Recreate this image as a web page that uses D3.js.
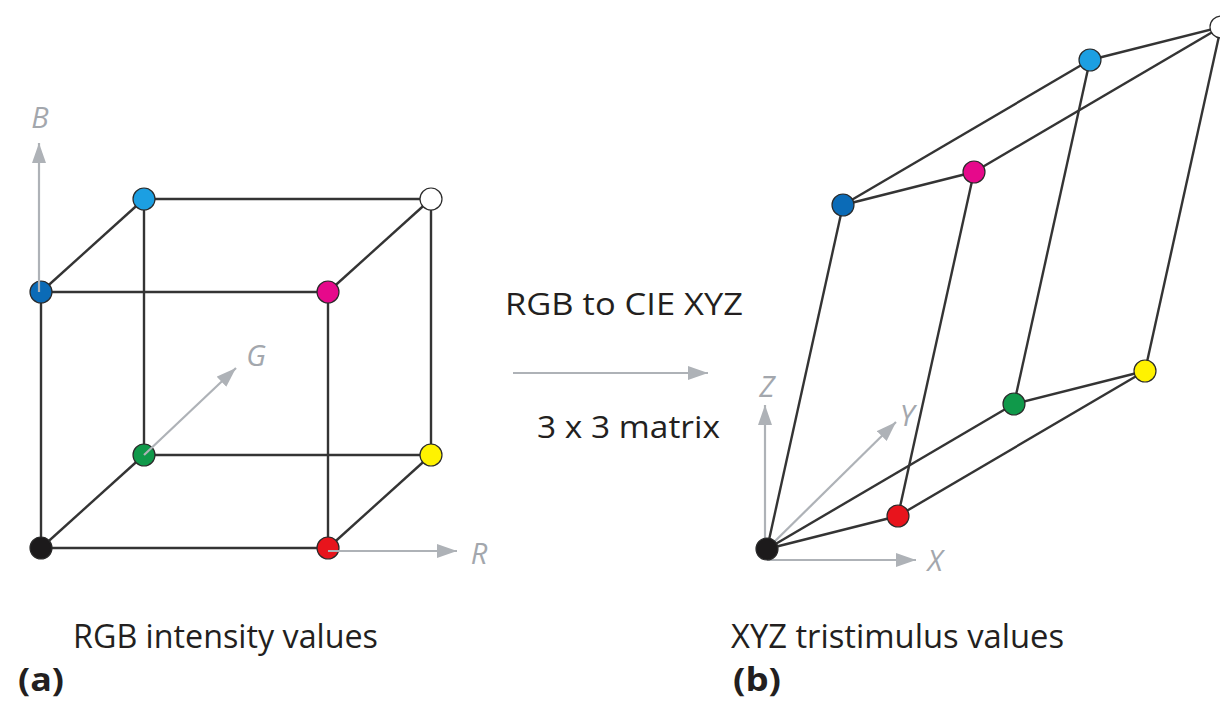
<!DOCTYPE html>
<html>
<head>
<meta charset="utf-8">
<script src="https://cdn.jsdelivr.net/npm/d3@7"></script>
<style>
  html, body { margin: 0; padding: 0; background: #fff; }
  svg { display: block; }
</style>
</head>
<body>
<svg></svg>
<script>
// clear the svg
d3.selectAll("svg > *").remove();

const SVG_WIDTH = 1220;
const SVG_HEIGHT = 706;

/*
 * Data: the eight corners of the RGB cube, the colour of each corner,
 * and the twelve cube edges (pairs of corner names).
 */
const CORNER_NAMES = ["black", "red", "green", "blue", "yellow", "magenta", "cyan", "white"];
const CORNER_RGB = [
  [0, 0, 0], [1, 0, 0], [0, 1, 0], [0, 0, 1],
  [1, 1, 0], [1, 0, 1], [0, 1, 1], [1, 1, 1]
];
const CORNER_FILLS = ["#1c1a1b", "#e8141c", "#10994a", "#0b6bb7", "#fff200", "#e6098b", "#1c9fe2", "#ffffff"];
const EDGES = [
  ["black", "red"], ["black", "green"], ["black", "blue"],
  ["red", "yellow"], ["red", "magenta"], ["green", "yellow"],
  ["green", "cyan"], ["blue", "magenta"], ["blue", "cyan"],
  ["yellow", "white"], ["magenta", "white"], ["cyan", "white"]
];
const LEFT_AXIS_LABELS = ["R", "G", "B"];
const RIGHT_AXIS_LABELS = ["X", "Y", "Z"];

/*
 * Screen projection of each panel: origin plus the screen vector of one unit along each axis.
 */
const LEFT_PROJ = { origin: [41, 548], r: [287, 0], g: [103, -93], b: [0, -256] };
const RIGHT_PROJ = { origin: [767, 549], r: [131, -33], g: [247, -145], b: [76, -344] };

const EDGE_COLOR = "#343434";
const AXIS_COLOR = "#aeb2b7";
const DOT_R = 11;

const svg = d3.select("svg")
  .attr("width", SVG_WIDTH)
  .attr("height", SVG_HEIGHT);

svg.append("rect")
  .attr("width", SVG_WIDTH)
  .attr("height", SVG_HEIGHT)
  .attr("fill", "#fff");

// arrowhead marker for the gray axes
svg.append("defs")
  .append("marker")
  .attr("id", "arrow")
  .attr("viewBox", "0 0 20 14")
  .attr("refX", 20)
  .attr("refY", 7)
  .attr("markerWidth", 20)
  .attr("markerHeight", 14)
  .attr("markerUnits", "userSpaceOnUse")
  .attr("orient", "auto")
  .append("path")
  .attr("d", "M0,0 L20,7 L0,14 Z")
  .attr("fill", AXIS_COLOR);

function project(proj, rgb) {
  const [ox, oy] = proj.origin;
  return [
    ox + rgb[0] * proj.r[0] + rgb[1] * proj.g[0] + rgb[2] * proj.b[0],
    oy + rgb[0] * proj.r[1] + rgb[1] * proj.g[1] + rgb[2] * proj.b[1]
  ];
}

function corners(proj) {
  return CORNER_NAMES.map((name, i) => {
    const [x, y] = project(proj, CORNER_RGB[i]);
    return { name, x, y, fill: CORNER_FILLS[i] };
  });
}

function drawEdges(g, pts) {
  const byName = {};
  pts.forEach(p => { byName[p.name] = p; });
  g.selectAll("line.edge")
    .data(EDGES)
    .join("line")
    .attr("class", "edge")
    .attr("x1", d => byName[d[0]].x)
    .attr("y1", d => byName[d[0]].y)
    .attr("x2", d => byName[d[1]].x)
    .attr("y2", d => byName[d[1]].y)
    .attr("stroke", EDGE_COLOR)
    .attr("stroke-width", 2.4);
}

function drawDots(g, pts) {
  g.selectAll("circle.dot")
    .data(pts)
    .join("circle")
    .attr("class", "dot")
    .attr("cx", d => d.x)
    .attr("cy", d => d.y)
    .attr("r", DOT_R)
    .attr("fill", d => d.fill)
    .attr("stroke", "#2a2a2a")
    .attr("stroke-width", 1.2);
}

function axis(g, x1, y1, x2, y2) {
  g.append("line")
    .attr("x1", x1).attr("y1", y1)
    .attr("x2", x2).attr("y2", y2)
    .attr("stroke", AXIS_COLOR)
    .attr("stroke-width", 2.2)
    .attr("marker-end", "url(#arrow)");
}

function axisLabel(g, x, y, txt) {
  g.append("text")
    .attr("x", x)
    .attr("y", y)
    .attr("text-anchor", "middle")
    .attr("font-family", "'Open Sans', sans-serif")
    .attr("font-style", "italic")
    .attr("font-size", 29)
    .attr("fill", "#a3a7ad")
    .text(txt);
}

/*
 * Panel (a): RGB cube
 */
const left = svg.append("g");
const lp = corners(LEFT_PROJ);
drawEdges(left, lp);
drawDots(left, lp);
const lBlue = lp[3], lGreen = lp[2], lRed = lp[1];
axis(left, lBlue.x - 2, lBlue.y, lBlue.x - 2, 143);
axis(left, lGreen.x, lGreen.y, 236, 368);
axis(left, lRed.x, lRed.y + 3, 457, lRed.y + 3);
axisLabel(left, 40, 128, LEFT_AXIS_LABELS[2]);
axisLabel(left, 256, 366, LEFT_AXIS_LABELS[1]);
axisLabel(left, 479, 564, LEFT_AXIS_LABELS[0]);

/*
 * Panel (b): XYZ parallelepiped
 */
const right = svg.append("g");
const rp = corners(RIGHT_PROJ);
const rO = rp[0];
axis(right, rO.x - 2, rO.y + 11, rO.x - 2, 405);
axis(right, rO.x, rO.y, 896, 422);
axis(right, rO.x, rO.y + 11, 916, rO.y + 11);
drawEdges(right, rp);
drawDots(right, rp);
axisLabel(right, 767, 397, RIGHT_AXIS_LABELS[2]);
axisLabel(right, 907, 426, RIGHT_AXIS_LABELS[1]);
axisLabel(right, 935, 571, RIGHT_AXIS_LABELS[0]);

/*
 * Middle: transform arrow and captions
 */
const mid = svg.append("g");
mid.append("line")
  .attr("x1", 513).attr("y1", 373)
  .attr("x2", 708).attr("y2", 373)
  .attr("stroke", AXIS_COLOR)
  .attr("stroke-width", 2.2)
  .attr("marker-end", "url(#arrow)");

function caption(x, y, txt, len, opts = {}) {
  svg.append("text")
    .attr("x", x)
    .attr("y", y)
    .attr("font-family", "'Open Sans', sans-serif")
    .attr("font-size", opts.size || 31)
    .attr("font-weight", opts.bold ? "bold" : "normal")
    .attr("fill", "#231f20")
    .attr("textLength", len)
    .attr("lengthAdjust", "spacingAndGlyphs")
    .text(txt);
}

caption(505, 315, "RGB to CIE XYZ", 238);
caption(537, 438, "3 x 3 matrix", 183);
caption(73, 648, "RGB intensity values", 305, { size: 33 });
caption(731, 648, "XYZ tristimulus values", 333, { size: 33 });
caption(18, 691, "(a)", 46, { bold: true, size: 32 });
caption(733, 691, "(b)", 48, { bold: true, size: 32 });
</script>
</body>
</html>
